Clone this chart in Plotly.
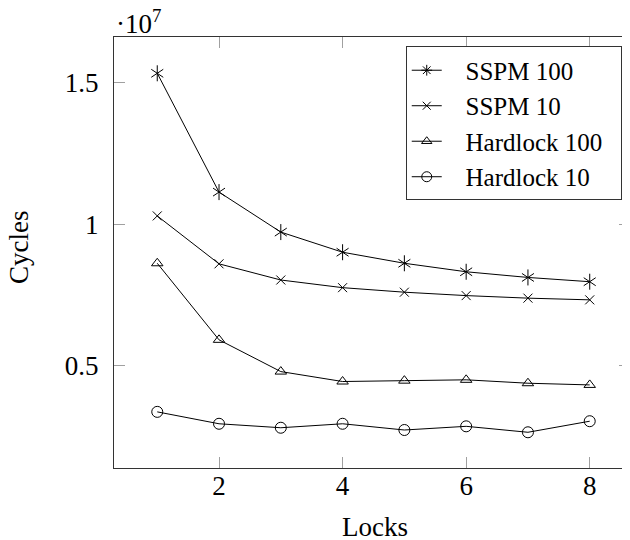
import plotly.graph_objects as go

locks = [1, 2, 3, 4, 5, 6, 7, 8]
sspm_100 = [15320000, 11130000, 9720000, 9010000, 8620000, 8320000, 8120000, 7970000]
sspm_10 = [10290000, 8600000, 8030000, 7760000, 7600000, 7480000, 7390000, 7330000]
hardlock_100 = [8620000, 5920000, 4800000, 4450000, 4480000, 4510000, 4390000, 4330000]
hardlock_10 = [3380000, 2960000, 2820000, 2960000, 2740000, 2870000, 2660000, 3050000]

series_names = ["SSPM 100", "SSPM 10", "Hardlock 100", "Hardlock 10"]
y_tickvals = [5e6, 1e7, 1.5e7]
y_ticktext = ["0.5", "1", "1.5"]
x_tickvals = [2, 4, 6, 8]

FONT = "Liberation Serif"
BLACK = "#000000"
LEAD = "\u00a0" * 3
TAIL = "\u00a0" * 2

fig = go.Figure()

def line_trace(y, symbol, size, name, mode="lines+markers"):
    return go.Scatter(
        x=locks, y=y, mode=mode, name=name, showlegend=False,
        line=dict(color=BLACK, width=1),
        marker=dict(symbol=symbol, size=size, color=BLACK,
                    line=dict(color=BLACK, width=1)),
    )

# SSPM 100: six-armed asterisk made of two overlaid Y markers
fig.add_trace(line_trace(sspm_100, "y-up-open", 10, series_names[0]))
fig.add_trace(line_trace(sspm_100, "y-down-open", 10, series_names[0], mode="markers"))
fig.add_trace(line_trace(sspm_10, "x-thin-open", 9, series_names[1]))
fig.add_trace(line_trace(hardlock_100, "triangle-up-open", 10, series_names[2]))
fig.add_trace(line_trace(hardlock_10, "circle-open", 11, series_names[3]))

# legend proxies
for name, sym, sz in zip(series_names,
                         ["asterisk-open", "x-thin-open", "triangle-up-open", "circle-open"],
                         [9, 8, 9, 10]):
    fig.add_trace(go.Scatter(
        x=[None], y=[None], mode="lines+markers", name=LEAD + name + TAIL,
        line=dict(color=BLACK, width=1),
        marker=dict(symbol=sym, size=sz, color=BLACK, line=dict(color=BLACK, width=1)),
    ))

axis_common = dict(
    showgrid=False, zeroline=False,
    showline=True, linecolor="#333333", linewidth=1.2, mirror="ticks",
    ticks="inside", ticklen=11, tickcolor="#a0a0a0", tickwidth=1,
    tickfont=dict(family=FONT, size=27, color=BLACK),
)

fig.update_layout(
    width=622, height=532,
    margin=dict(l=106, r=0, t=29, b=72),
    paper_bgcolor="white", plot_bgcolor="white",
    font=dict(family=FONT, size=27, color=BLACK),
    xaxis=dict(range=[0.3, 8.652], tickvals=x_tickvals, ticklabelstandoff=-7, **axis_common),
    yaxis=dict(range=[1.4e6, 1.66e7], tickvals=y_tickvals, ticktext=y_ticktext,
               ticklabelstandoff=9, **axis_common),
    legend=dict(
        x=0.984, y=0.978, xanchor="right", yanchor="top",
        bgcolor="white", bordercolor="#333333", borderwidth=1,
        font=dict(family=FONT, size=25, color=BLACK),
        tracegroupgap=0,
    ),
    showlegend=True,
    annotations=[
        dict(text="·10<sup>7</sup>", xref="paper", yref="paper", x=0.0, y=1.0,
             xanchor="left", yanchor="bottom", yshift=-4, showarrow=False,
             font=dict(family=FONT, size=27, color=BLACK)),
        dict(text="Cycles", xref="paper", yref="paper", x=-0.184, y=0.513,
             xanchor="center", yanchor="middle", textangle=-90, showarrow=False,
             font=dict(family=FONT, size=27, color=BLACK)),
        dict(text="Locks", xref="paper", yref="paper", x=0.5055, y=-0.137,
             xanchor="center", yanchor="middle", showarrow=False,
             font=dict(family=FONT, size=27, color=BLACK)),
    ],
)

fig.write_html("out.html")
